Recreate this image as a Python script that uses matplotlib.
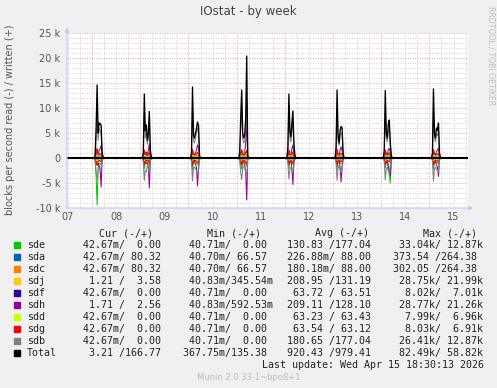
import numpy as np
import matplotlib
matplotlib.use('Agg')
import matplotlib.pyplot as plt
from matplotlib.patches import Rectangle

W, H = 497, 388

# legend order == draw order (munin style)
DISKS = ['sde', 'sda', 'sdc', 'sdj', 'sdf', 'sdh', 'sdd', 'sdg', 'sdb', 'Total']
COLORS = ['#00CC00', '#0066B3', '#FF8000', '#FFCC00', '#330099',
          '#990099', '#CCFF00', '#FF0000', '#808080', '#000000']

DAY_LABELS = ['07', '08', '09', '10', '11', '12', '13', '14', '15']
SPIKE_DAYS = [1, 2, 3, 4, 5, 6, 7, 8]          # days after Apr 07 00:00
OFFSETS = [1.0, 1.5, 2.0, 2.5, 3.0, 3.5, 4.0, 4.5, 5.0, 5.5, 6.0]  # hours after midnight
T_START, T_END, STEP = 11.5, 211.2, 0.5        # hours after Apr 07 00:00

# values in k blocks/s, one row per night, written (+) and read (-)
sde_wr = [[0, 0.2, 1.2, 2.0, 0.8, 0.6, 0.9, 0.7, 0.2, 0, 0],
          [0, 0.3, 1.6, 0.9, 0.7, 0.5, 0.8, 1.1, 0.2, 0, 0],
          [0, 0.3, 1.8, 0.8, 0.6, 0.7, 0.9, 1.0, 0.8, 0.1, 0],
          [0, 0.2, 1.0, 1.7, 0.7, 0.5, 0.6, 0.9, 1.4, 0.1, 0],
          [0, 0.4, 1.6, 0.8, 0.6, 0.9, 1.1, 0.4, 0.1, 0, 0],
          [0, 0.4, 1.7, 0.7, 0.5, 0.8, 0.9, 0.8, 0.2, 0, 0],
          [0, 0.3, 1.6, 0.8, 0.6, 0.9, 1.0, 0.5, 0.1, 0, 0],
          [0, 0.2, 1.7, 0.8, 0.6, 0.8, 0.8, 0.9, 0.2, 0, 0]]
sde_rd = [[0, -0.4, -3.5, -9.4, -2.0, -1.2, -1.0, -1.4, -0.3, 0, 0],
          [0, -0.3, -2.2, -1.0, -0.8, -0.6, -0.9, -1.5, -0.2, 0, 0],
          [0, -0.3, -2.4, -0.9, -0.7, -0.8, -1.0, -1.3, -1.0, -0.1, 0],
          [0, -0.2, -1.4, -2.2, -0.8, -0.6, -0.8, -1.2, -1.6, -0.1, 0],
          [0, -0.4, -2.1, -0.9, -0.7, -1.0, -1.3, -0.5, -0.1, 0, 0],
          [0, -0.4, -2.3, -0.8, -0.6, -0.9, -1.1, -1.0, -0.2, 0, 0],
          [0, -0.3, -2.0, -1.0, -0.8, -1.2, -3.5, -5.0, -0.4, 0, 0],
          [0, -0.2, -2.2, -0.9, -0.7, -0.9, -0.9, -1.2, -0.2, 0, 0]]
sda_wr = [[0, 0.1, 0.4, 0.5, 0.3, 0.3, 0.3, 0.3, 0.1, 0, 0]] * 8
sda_rd = [[0, 0, -0.1, -0.2, -0.1, -0.1, -0.1, -0.1, 0, 0, 0]] * 8
sdc_wr = [[0, 0.1, 0.6, 0.8, 0.5, 0.4, 0.5, 0.4, 0.1, 0, 0],
          [0, 0.1, 0.8, 0.5, 0.4, 0.3, 0.4, 0.6, 0.1, 0, 0],
          [0, 0.1, 0.9, 0.4, 0.3, 0.4, 0.5, 0.5, 0.4, 0, 0],
          [0, 0.1, 0.5, 0.8, 0.4, 0.3, 0.3, 0.5, 0.7, 0, 0],
          [0, 0.2, 0.8, 0.4, 0.3, 0.5, 0.6, 0.2, 0, 0, 0],
          [0, 0.2, 0.9, 0.4, 0.3, 0.4, 0.5, 0.4, 0.1, 0, 0],
          [0, 0.1, 0.8, 0.4, 0.3, 0.5, 0.5, 0.3, 0, 0, 0],
          [0, 0.1, 0.9, 0.4, 0.3, 0.4, 0.4, 0.5, 0.1, 0, 0]]
sdc_rd = [[0, 0, -0.3, -0.5, -0.2, -0.2, -0.2, -0.2, 0, 0, 0]] * 8
sdj_wr = [[0, 0.2, 0.9, 1.3, 0.6, 0.5, 0.7, 0.6, 0.2, 0, 0],
          [0, 0.2, 1.1, 0.6, 0.5, 0.4, 0.6, 0.9, 0.2, 0, 0],
          [0, 0.2, 1.2, 0.5, 0.4, 0.5, 0.7, 0.8, 0.6, 0.1, 0],
          [0, 0.2, 0.7, 1.1, 0.5, 0.4, 0.5, 0.8, 1.6, 0.1, 0],
          [0, 0.3, 1.1, 0.6, 0.4, 0.7, 0.9, 0.3, 0.1, 0, 0],
          [0, 0.3, 1.2, 0.5, 0.4, 0.6, 0.7, 0.6, 0.1, 0, 0],
          [0, 0.2, 1.1, 0.6, 0.4, 0.7, 0.8, 0.4, 0.1, 0, 0],
          [0, 0.2, 1.2, 0.6, 0.4, 0.6, 0.6, 0.7, 0.1, 0, 0]]
sdj_rd = [[0, -0.2, -0.8, -1.2, -0.5, -0.4, -0.5, -0.6, -0.1, 0, 0],
          [0, -0.2, -1.0, -0.5, -0.4, -0.3, -0.5, -0.8, -0.1, 0, 0],
          [0, -0.2, -1.1, -0.4, -0.3, -0.4, -0.6, -0.7, -0.5, 0, 0],
          [0, -0.2, -0.6, -1.0, -0.4, -0.3, -0.4, -0.7, -1.2, 0, 0],
          [0, -0.3, -1.0, -0.5, -0.3, -0.6, -0.8, -0.2, 0, 0, 0],
          [0, -0.3, -1.1, -0.4, -0.3, -0.5, -0.6, -0.5, -0.1, 0, 0],
          [0, -0.2, -1.0, -0.5, -0.3, -0.6, -0.7, -0.3, 0, 0, 0],
          [0, -0.2, -1.1, -0.5, -0.3, -0.5, -0.5, -0.6, -0.1, 0, 0]]
sdf_wr = [[0, 0.1, 0.5, 0.7, 0.4, 0.3, 0.4, 0.3, 0.1, 0, 0]] * 8
sdf_rd = [[0, -0.1, -0.5, -0.7, -0.4, -0.3, -0.4, -0.3, -0.1, 0, 0]] * 8
sdh_wr = [[0, 0.2, 1.0, 1.5, 0.8, 1.5, 1.8, 2.5, 0.4, 0, 0],
          [0, 0.2, 1.2, 0.7, 1.2, 0.8, 1.5, 2.8, 0.5, 0, 0],
          [0, 0.2, 1.3, 0.6, 0.7, 1.0, 1.6, 2.6, 2.0, 0.1, 0],
          [0, 0.2, 0.9, 1.4, 0.8, 0.7, 1.2, 3.0, 7.6, 0.2, 0],
          [0, 0.3, 1.2, 0.7, 0.6, 1.8, 2.6, 0.8, 0.1, 0, 0],
          [0, 0.3, 1.3, 0.6, 0.5, 1.6, 2.2, 1.5, 0.2, 0, 0],
          [0, 0.2, 1.2, 0.7, 0.6, 1.7, 1.9, 1.2, 0.1, 0, 0],
          [0, 0.2, 1.3, 0.7, 0.6, 1.4, 1.5, 2.0, 0.2, 0, 0]]
sdh_rd = [[0, -0.2, -1.0, -1.5, -1.0, -1.6, -2.2, -5.8, -0.5, 0, 0],
          [0, -0.2, -1.2, -0.8, -1.1, -1.0, -1.8, -6.0, -0.6, 0, 0],
          [0, -0.2, -1.3, -0.7, -0.8, -1.2, -1.9, -5.6, -2.0, -0.1, 0],
          [0, -0.2, -0.9, -1.4, -0.9, -0.8, -1.4, -3.0, -8.4, -0.2, 0],
          [0, -0.3, -1.2, -0.8, -0.7, -2.0, -5.3, -0.9, -0.1, 0, 0],
          [0, -0.3, -1.3, -0.7, -0.6, -1.8, -4.8, -1.6, -0.2, 0, 0],
          [0, -0.2, -1.2, -0.8, -0.7, -1.8, -2.5, -3.5, -0.2, 0, 0],
          [0, -0.2, -1.3, -0.8, -0.7, -1.5, -1.8, -3.7, -0.2, 0, 0]]
sdd_wr = [[0, 0.1, 0.5, 0.6, 0.4, 0.3, 0.4, 0.3, 0.1, 0, 0]] * 8
sdd_rd = [[0, -0.1, -0.5, -0.6, -0.4, -0.3, -0.4, -0.3, -0.1, 0, 0]] * 8
sdg_wr = [[0, 0.3, 1.2, 1.8, 0.9, 0.7, 0.9, 0.8, 0.2, 0, 0],
          [0, 0.3, 1.6, 0.8, 0.7, 0.5, 0.8, 1.2, 0.2, 0, 0],
          [0, 0.3, 1.7, 0.7, 0.6, 0.7, 0.9, 1.1, 0.8, 0.1, 0],
          [0, 0.3, 1.0, 1.6, 0.7, 0.6, 0.7, 1.0, 1.5, 0.1, 0],
          [0, 0.4, 1.6, 0.8, 0.6, 0.9, 1.2, 0.4, 0.1, 0, 0],
          [0, 0.4, 1.7, 0.7, 0.6, 0.8, 0.9, 0.8, 0.2, 0, 0],
          [0, 0.3, 1.6, 0.8, 0.6, 0.9, 1.0, 0.5, 0.1, 0, 0],
          [0, 0.3, 1.7, 0.8, 0.6, 0.8, 0.8, 0.9, 0.2, 0, 0]]
sdg_rd = [[0, -0.2, -0.9, -1.4, -0.7, -0.5, -0.7, -0.6, -0.1, 0, 0],
          [0, -0.2, -1.3, -0.6, -0.5, -0.4, -0.6, -1.0, -0.1, 0, 0],
          [0, -0.2, -1.4, -0.5, -0.5, -0.5, -0.7, -0.9, -0.6, 0, 0],
          [0, -0.2, -0.8, -1.3, -0.5, -0.4, -0.5, -0.8, -1.2, 0, 0],
          [0, -0.3, -1.3, -0.6, -0.5, -0.7, -1.0, -0.3, 0, 0, 0],
          [0, -0.3, -1.4, -0.5, -0.4, -0.6, -0.7, -0.6, -0.1, 0, 0],
          [0, -0.2, -1.3, -0.6, -0.5, -0.7, -0.8, -0.4, 0, 0, 0],
          [0, -0.2, -1.4, -0.6, -0.5, -0.6, -0.6, -0.7, -0.1, 0, 0]]
sdb_wr = [[0, 0.3, 4.0, 10.0, 3.5, 5.8, 5.5, 5.0, 0.8, 0.1, 0],
          [0, 0.6, 9.0, 4.0, 5.5, 2.8, 4.0, 7.0, 1.0, 0.1, 0],
          [0, 0.6, 10.0, 3.5, 3.0, 4.0, 5.0, 6.0, 5.0, 0.3, 0],
          [0, 0.6, 6.0, 9.5, 3.8, 3.0, 3.5, 5.5, 11.0, 0.3, 0],
          [0, 1.2, 9.0, 4.0, 3.2, 5.5, 7.0, 2.2, 0.3, 0, 0],
          [0, 1.2, 9.5, 3.5, 2.5, 4.5, 5.0, 4.8, 0.6, 0, 0],
          [0, 1.0, 9.5, 4.0, 3.2, 5.5, 6.0, 2.4, 0.3, 0, 0],
          [0, 0.6, 9.8, 4.0, 3.2, 4.8, 4.5, 5.6, 0.6, 0, 0]]
sdb_rd = [[0, -0.5, -3.0, -4.2, -2.5, -2.0, -2.5, -2.0, -0.5, 0, 0],
          [0, -0.8, -4.5, -2.5, -2.8, -1.5, -2.0, -3.0, -0.6, 0, 0],
          [0, -0.8, -4.6, -2.0, -1.8, -2.2, -2.6, -3.0, -2.5, -0.3, 0],
          [0, -0.6, -2.8, -4.3, -2.0, -1.6, -2.0, -2.8, -3.5, -0.3, 0],
          [0, -1.0, -4.2, -2.2, -1.8, -2.6, -3.0, -1.2, -0.2, 0, 0],
          [0, -1.0, -4.5, -2.0, -1.5, -2.4, -2.8, -2.5, -0.4, 0, 0],
          [0, -0.8, -4.4, -2.2, -1.8, -2.6, -3.0, -1.4, -0.2, 0, 0],
          [0, -0.6, -4.6, -2.2, -1.8, -2.4, -2.4, -2.8, -0.4, 0, 0]]
total_wr = [[0, 0.5, 6.0, 14.6, 5.0, 7.0, 6.9, 6.5, 1.0, 0.2, 0],
            [0, 1.0, 12.8, 5.5, 6.6, 3.5, 5.0, 9.3, 1.5, 0.2, 0],
            [0, 1.0, 14.2, 4.5, 4.0, 5.0, 6.0, 7.2, 6.5, 0.5, 0],
            [0, 1.0, 8.0, 13.6, 5.0, 4.0, 4.5, 8.0, 20.4, 0.5, 0],
            [0, 2.0, 12.8, 5.5, 4.2, 7.0, 9.4, 3.0, 0.5, 0, 0],
            [0, 2.0, 13.6, 4.5, 3.0, 5.5, 6.3, 6.0, 1.0, 0, 0],
            [0, 1.5, 13.5, 5.0, 4.0, 6.8, 7.6, 3.0, 0.5, 0, 0],
            [0, 1.0, 13.8, 5.0, 4.0, 6.0, 5.5, 7.0, 1.0, 0, 0]]
total_rd = [[0] * 11] * 8

SERIES = {
    'sde': (sde_wr, sde_rd), 'sda': (sda_wr, sda_rd), 'sdc': (sdc_wr, sdc_rd),
    'sdj': (sdj_wr, sdj_rd), 'sdf': (sdf_wr, sdf_rd), 'sdh': (sdh_wr, sdh_rd),
    'sdd': (sdd_wr, sdd_rd), 'sdg': (sdg_wr, sdg_rd), 'sdb': (sdb_wr, sdb_rd),
    'Total': (total_wr, total_rd),
}

CUR = [' 42.67m/  0.00 ', ' 42.67m/ 80.32 ', ' 42.67m/ 80.32 ', '  1.21 /  3.58 ',
       ' 42.67m/  0.00 ', '  1.71 /  2.56 ', ' 42.67m/  0.00 ', ' 42.67m/  0.00 ',
       ' 42.67m/  0.00 ', '  3.21 /166.77 ']
MIN = [' 40.71m/  0.00 ', ' 40.70m/ 66.57 ', ' 40.70m/ 66.57 ', ' 40.83m/345.54m',
       ' 40.71m/  0.00 ', ' 40.83m/592.53m', ' 40.71m/  0.00 ', ' 40.71m/  0.00 ',
       ' 40.71m/  0.00 ', '367.75m/135.38 ']
AVG = ['130.83 /177.04 ', '226.88m/ 88.00 ', '180.18m/ 88.00 ', '208.95 /131.19 ',
       ' 63.72 / 63.51 ', '209.11 /128.10 ', ' 63.23 / 63.43 ', ' 63.54 / 63.12 ',
       '180.65 /177.04 ', '920.43 /979.41 ']
MAX = [' 33.04k/ 12.87k', '373.54 /264.38 ', '302.05 /264.38 ', ' 28.75k/ 21.99k',
       '  8.02k/  7.01k', ' 28.77k/ 21.26k', '  7.99k/  6.96k', '  8.03k/  6.91k',
       ' 26.41k/ 12.87k', ' 82.49k/ 58.82k']

t = np.arange(T_START, T_END, STEP)


def expand(rows):
    arr = np.zeros(len(t))
    for d, row in zip(SPIKE_DAYS, rows):
        i0 = int(round((24 * d + OFFSETS[0] - T_START) / STEP))
        arr[i0:i0 + len(row)] = row
    return arr * 1000


fig = plt.figure(figsize=(W / 100, H / 100), dpi=100, facecolor='#F0F0F0')
ax = fig.add_axes([67 / W, 1 - 208 / H, (468 - 67) / W, (208 - 33) / H])
ax.set_facecolor('white')

for name, color in zip(DISKS, COLORS):
    wr, rd = SERIES[name]
    lw = 0.95 if name == 'Total' else 0.75
    ax.plot(t, expand(rd), color=color, lw=1.5 if name == 'Total' else lw)
    ax.plot(t, expand(wr), color=color, lw=lw)

ax.set_xlim(T_START, T_END)
ax.set_ylim(-10000, 25000)

midnights = [24 * d for d in range(1, 9)]
six_h = np.arange(12, T_END, 6)
ax.set_xticks(midnights)
ax.set_xticklabels([''] * len(midnights))
ax.set_xticks(six_h, minor=True)
ax.set_xticklabels([DAY_LABELS[int(h // 24)] if h % 24 == 12 else '' for h in six_h], minor=True)
yt = np.arange(-10000, 25001, 5000)
ax.set_yticks(yt)
ax.set_yticklabels(['%d k' % (v / 1000) if v else '0' for v in yt])
ax.set_yticks(np.arange(-10000, 25001, 1000), minor=True)

ax.grid(which='minor', color='#D0D0D0', ls=(0, (1, 1.5)), lw=0.7)
ax.grid(which='major', color='#F2A0A0', ls=(0, (1, 1.5)), lw=0.7)
ax.set_axisbelow(True)
ax.tick_params(which='both', length=0, labelsize=7, colors='#555555')
ax.tick_params(axis='y', pad=5)
ax.tick_params(axis='x', which='minor', pad=3)
for s in ax.spines.values():
    s.set_visible(False)

arrow = dict(arrowstyle='-|>', color='#C4C4F0', lw=0.8, mutation_scale=6, shrinkA=0, shrinkB=0)
ax.annotate('', xy=(0, 1.03), xytext=(0, 0), xycoords='axes fraction', arrowprops=arrow)
ax.annotate('', xy=(1.013, 0), xytext=(0, 0), xycoords='axes fraction', arrowprops=arrow)

fig.text(0.5, 1 - 12 / H, 'IOstat - by week', ha='center', va='center', fontsize=8.5, color='#444444')
fig.text(10 / W, 1 - 120 / H, 'blocks per second read (-) / written (+)', rotation=90,
         ha='center', va='center', fontsize=7, color='#555555')
fig.text(491 / W, 1 - 56 / H, 'RRDTOOL / TOBI OETIKER', rotation=270,
         ha='center', va='center', fontsize=5.6, color='#BEBEBE')

mono = dict(family='DejaVu Sans Mono', fontsize=7.2, color='#222222', va='center')
header_y = 233
for x, txt in zip([98.7, 207.3, 315.3, 423.3], ['Cur (-/+)', 'Min (-/+)', 'Avg (-/+)', 'Max (-/+)']):
    fig.text(x / W, 1 - header_y / H, txt, **mono)
for i, (name, color) in enumerate(zip(DISKS, COLORS)):
    y = 245 + 12 * i
    fig.patches.append(Rectangle((14 / W, 1 - (y + 3) / H), 6 / W, 6 / H,
                                 transform=fig.transFigure, color=color))
    fig.text(26.7 / W, 1 - y / H, name, **mono)
    for x, col in zip([77.3, 182.7, 287.3, 392.7], [CUR, MIN, AVG, MAX]):
        fig.text(x / W, 1 - y / H, col[i], **mono)
fig.text(483.5 / W, 1 - 365.5 / H, 'Last update: Wed Apr 15 18:30:13 2026', ha='right', **mono)
fig.text(0.5, 1 - 377 / H, 'Munin 2.0.33-1~bpo8+1', ha='center', va='center',
         fontsize=6, color='#BBBBBB')

fig.savefig('out.png', dpi=100, facecolor=fig.get_facecolor())
